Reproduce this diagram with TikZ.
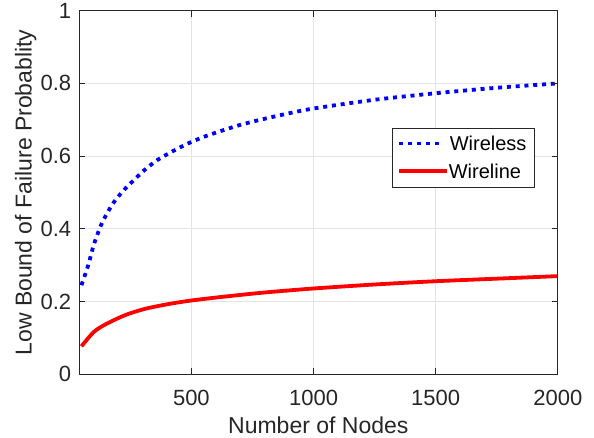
\documentclass[tikz,border=0pt]{standalone}
\usepackage{fontspec}
\setmainfont{Liberation Sans}
\definecolor{axisgray}{HTML}{262626}
\definecolor{gridgray}{HTML}{E3E3E3}
\definecolor{wlessblue}{RGB}{0,0,255}
\definecolor{wlinered}{RGB}{255,0,0}
\begin{document}
\begin{tikzpicture}[x=1pt,y=1pt,
  gridline/.style={draw=gridgray,line width=0.9pt},
  frameline/.style={draw=axisgray,line width=0.9pt},
  tickmark/.style={draw=axisgray,line width=0.9pt},
  ticklabel/.style={text=axisgray,font=\fontsize{22}{26}\selectfont,inner sep=0pt},
  axlabel/.style={text=axisgray,font=\fontsize{23}{27}\selectfont,inner sep=0pt},
  legtext/.style={text=black,font=\fontsize{20}{24}\selectfont,inner sep=0pt,anchor=base west},
  wirelesscurve/.style={draw=wlessblue,line width=3.8pt,line cap=butt,dash pattern=on 4pt off 4.8pt},
  wirelinecurve/.style={draw=wlinered,line width=3.8pt,line cap=butt,line join=round}]
\useasboundingbox (0,0) rectangle (594,438);

% data frame: n from 40 to 2000, probability from 0 to 1
\begin{scope}[shift={(69.23,63.7)},x=0.2443pt,y=363.6pt]
  \foreach \n in {500,1000,1500}
    \draw[gridline] (\n,0) -- (\n,1);
  \foreach \v in {0.2,0.4,0.6,0.8}
    \draw[gridline] (40,\v) -- (2000,\v);

  % wireless lower bound
  \draw[wirelesscurve] plot[smooth,tension=0.45] coordinates {
    (50,0.245) (65,0.274) (80,0.305) (100,0.355) (130,0.410) (160,0.449)
    (190,0.480) (230,0.511) (260,0.531) (305,0.560) (360,0.589) (425,0.614)
    (490,0.636) (555,0.654) (625,0.670) (690,0.684) (770,0.698) (880,0.715)
    (1000,0.731) (1250,0.755) (1500,0.773) (1750,0.788) (2000,0.800)};

  % wireline lower bound
  \draw[wirelinecurve] plot[smooth,tension=0.45] coordinates {
    (50,0.077) (100,0.116) (150,0.138) (230,0.163) (310,0.180) (405,0.193)
    (500,0.203) (640,0.214) (800,0.225) (1000,0.236) (1250,0.247)
    (1500,0.256) (1750,0.263) (2000,0.270)};

  % frame and ticks on all four sides
  \draw[frameline] (40,0) rectangle (2000,1);
  \foreach \n in {500,1000,1500} {
    \draw[tickmark] (\n,0) -- ++(0pt,6pt);
    \draw[tickmark] (\n,1) -- ++(0pt,-6pt);
  }
  \foreach \v in {0.2,0.4,0.6,0.8} {
    \draw[tickmark] (40,\v) -- ++(6pt,0pt);
    \draw[tickmark] (2000,\v) -- ++(-6pt,0pt);
  }

  % tick labels
  \foreach \n in {500,1000,1500,2000}
    \node[ticklabel] (xt\n) at ([yshift=-23.2pt]\n,0) {\n};
  \foreach \v/\k/\t in {0/a/0,0.2/b/0.2,0.4/c/0.4,0.6/d/0.6,0.8/e/0.8,1/f/1}
    \node[ticklabel,anchor=east] (yt\k) at ([xshift=-7.6pt]40,\v) {\t};
\end{scope}

% axis labels
\node[axlabel,anchor=base] (xlab) at (318.3,4) {Number of Nodes};
\node[axlabel,anchor=base,rotate=90] (ylab) at (31.7,245.5) {Low Bound of Failure Probablity};

% legend
\node[draw=axisgray,line width=0.8pt,fill=white,minimum width=142pt,minimum height=59pt,
      inner sep=0pt,anchor=north west] (legbox) at (392.3,310.3) {};
\coordinate (lgA1) at (399.3,294.4);
\coordinate (lgA2) at (442.5,294.4);
\coordinate (lgB1) at (399.3,267.3);
\coordinate (lgB2) at (447.3,267.3);
\draw[wirelesscurve,dash pattern=on 4pt off 5pt] (lgA1) -- (lgA2);
\draw[wirelinecurve] (lgB1) -- (lgB2);
\node[legtext] (legA) at (449.6,287.3) {Wireless};
\node[legtext] (legB) at (448.6,259.7) {Wireline};
\end{tikzpicture}
\end{document}
